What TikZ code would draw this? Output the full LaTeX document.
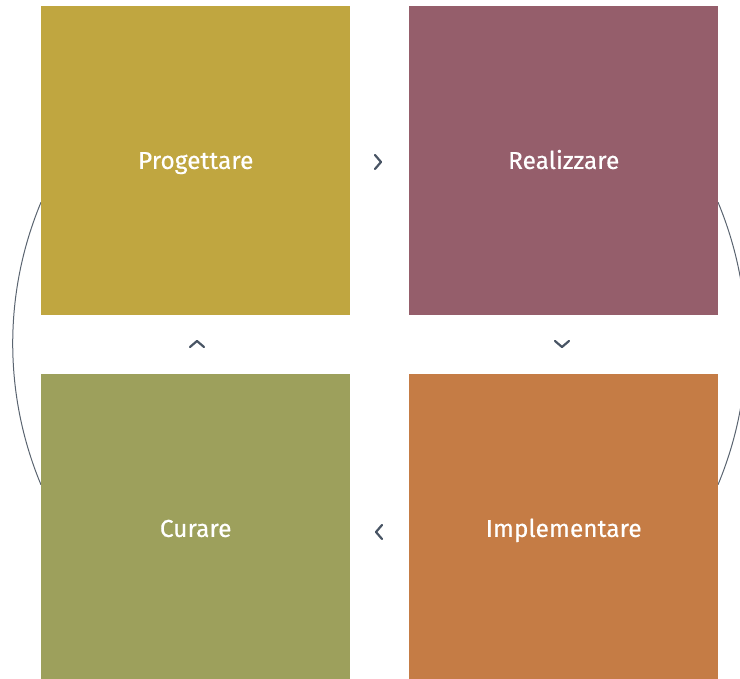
\documentclass[tikz,border=0pt]{standalone}
\usepackage{fontspec}
\setmainfont{Fira Sans}
\newfontfamily\tilefont{Fira Sans}[FakeBold=0.4]
\definecolor{cYellow}{RGB}{192,166,64}
\definecolor{cPlum}{RGB}{149,94,107}
\definecolor{cOlive}{RGB}{157,160,92}
\definecolor{cOrange}{RGB}{197,124,69}
\definecolor{cLine}{RGB}{90,100,112}
\definecolor{cChev}{RGB}{72,84,100}
\tikzset{
  tile/.style={minimum width=309pt, minimum height=309pt, inner sep=0pt, anchor=north west,
    text=white, font=\tilefont\fontsize{24.5}{28}\selectfont, text height=16.5pt, text depth=0pt},
  chev/.style={draw=cChev, line width=2.2pt, line cap=round, line join=round},
  ring/.style={draw=cLine, line width=1pt}
}
\begin{document}
\begin{tikzpicture}[x=1pt,y=1pt]
\useasboundingbox (0,0) rectangle (740,679);
\begin{scope}
\clip (0,0) rectangle (740,679);
\draw[ring] (41,476.7) arc[start angle=157.35, end angle=202.65, radius=366.8];
\draw[ring] (718,194.3) arc[start angle=-22.65, end angle=22.65, radius=366.8];
\node[tile, fill=cYellow] (prog) at (41,673) {Progettare};
\node[tile, fill=cPlum] (real) at (409,673) {Realizzare};
\node[tile, fill=cOlive] (cur) at (41,305) {Curare};
\node[tile, fill=cOrange] (impl) at (409,305) {Implementare};
\end{scope}
\draw[chev] (375,524) -- (381,517) -- (375,510);
\draw[chev] (190,332) -- (197,338) -- (204,332);
\draw[chev] (555,338) -- (562,332) -- (569,338);
\draw[chev] (382,154) -- (376,147) -- (382,140);
\end{tikzpicture}
\end{document}
